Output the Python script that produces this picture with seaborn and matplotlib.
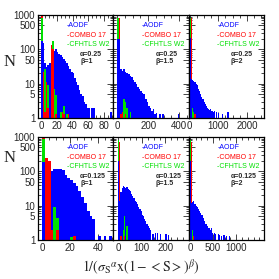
import numpy as np
import pandas as pd
import seaborn as sns
import matplotlib.pyplot as plt
from matplotlib.ticker import FixedLocator, LogLocator, NullFormatter, AutoMinorLocator

sns.set_style("ticks")
plt.rcParams['font.family'] = ['Liberation Sans', 'DejaVu Sans']
plt.rcParams['mathtext.fontset'] = 'stix'

# bin widths of each panel (x units)
widths = [2, 10, 40, 2, 5, 25]
# leading bins of red/green that sit behind the blue histogram
heads = [1, 2, 2, 1, 2, 2]
alphas = ["0.25", "0.25", "0.25", "0.125", "0.125", "0.125"]
betas = ["1", "1.5", "2", "1", "1.5", "2"]
xlims = [(-4, 92), (-25, 462), (-40, 2600), (-3, 51), (-20, 298), (-25, 1600)]
xticks = [[0, 20, 40, 60, 80], [0, 200, 400], [0, 1000, 2000],
          [0, 20, 40], [0, 100, 200], [0, 500, 1000]]
names = ["AODF", "COMBO 17", "CFHTLS W2"]

# counts per bin
blue_a = [170, 150, 40, 30, 35, 40, 45, 55, 90, 100, 85, 75, 68, 58, 52, 45, 40, 32,
          26, 22, 20, 15, 11, 9, 6.5, 5, 4.5, 3, 2.5, 2, 2, 0, 2, 2, 0, 0, 0, 0, 0,
          0, 0, 0, 0, 0, 1.5]
red_a = [1000, 22, 1.5, 11, 2, 0, 130, 100, 0, 1.3, 0, 0, 0, 1.5, 1.3, 0, 0, 1.3]
green_a = [800, 0, 27, 6, 9, 0, 0, 180, 7, 4.7, 0, 0, 1.5, 0, 2.2, 0, 1.3]

blue_b = [200, 200, 27, 24, 26, 22, 20, 19, 17, 16, 13, 11, 10, 8, 7, 6, 5.5, 5,
          3.5, 3, 2.2, 2, 1.6, 1.8, 1.3, 1.4, 0, 1.3, 0, 1.3, 0, 0, 0, 0, 0, 0, 0,
          0, 0, 1.3]
red_b = [0, 800, 1.3, 1.5, 0, 1.3]
green_b = [800, 0, 0, 0, 3.5, 3, 2, 0, 1.5]

blue_c = [220, 14, 13, 12, 11, 10, 9, 7, 6, 5, 4, 3.5, 3, 2.5, 2.2, 2, 1.8, 1.7,
          1.8, 1.6, 1.5, 1.6, 0, 1.5, 0, 1.4, 0, 0, 1.3, 0, 0, 0, 0, 1.5]
red_c = [0, 800, 0, 0, 1.3]
green_c = [800, 0, 2, 1.5]

blue_d = [190, 0, 0, 100, 120, 120, 120, 110, 80, 65, 55, 45, 38, 26, 18, 12, 7,
          5, 4, 0, 1.3, 0, 1.3, 0, 1.3]
red_d = [1000, 240, 200, 2, 0, 2, 0, 0, 0, 0, 0, 1.3]
green_d = [900, 0, 0, 2, 9, 4.5, 0, 0, 0, 0, 1.2]

blue_e = [200, 14, 25, 33, 38, 36, 33, 34, 30, 28, 26, 22, 19, 17, 14, 13, 11, 9,
          8, 7, 5.5, 5, 4, 3.5, 3, 2.5, 2.2, 2, 0, 1.5, 0, 1.6, 0, 1.6, 0, 1.5, 0,
          0, 0, 0, 1.5, 0, 1.4]
red_e = [0, 700, 1.3, 0, 0, 1.3]
green_e = [800, 0, 0, 0, 2, 5, 0, 2.5]

blue_f = [200, 12, 13, 14, 11, 10, 9, 8, 7, 6, 5.5, 4.5, 3.5, 3, 3, 2.5, 2.2, 2,
          2.2, 1.6, 0, 1.6, 1.5, 0, 1.5, 1.4, 0, 1.3, 0, 1.4, 0, 1.3, 0, 0, 1.3]
red_f = [0, 700, 0, 1.3]
green_f = [800, 0, 2]

blues = [blue_a, blue_b, blue_c, blue_d, blue_e, blue_f]
reds = [red_a, red_b, red_c, red_d, red_e, red_f]
greens = [green_a, green_b, green_c, green_d, green_e, green_f]
colors = ["#0000ff", "#ff0000", "#00e000"]


def draw(ax, counts, width, color, start=0):
    counts = np.asarray(counts, float)
    edges = np.arange(len(counts) + 1) * width
    df = pd.DataFrame({"x": edges[:-1] + width / 2, "n": counts})
    sub = edges[start:]
    if len(sub) < 2:
        return
    sns.histplot(data=df.iloc[start:], x="x", weights="n", bins=list(sub),
                 element="step", fill=True, color=color, alpha=1, linewidth=0, ax=ax)


fig, axes = plt.subplots(2, 3, figsize=(2.79, 2.79), dpi=100)
fig.subplots_adjust(left=38 / 279, right=264 / 279, top=1 - 15 / 279,
                    bottom=1 - 240 / 279, wspace=0, hspace=0.184)

for i, ax in enumerate(axes.flat):
    w = widths[i]
    h = heads[i]
    # tall first bins of red/green go behind blue, the rest in front
    draw(ax, reds[i][:h], w, colors[1])
    draw(ax, greens[i][:h], w, colors[2])
    draw(ax, blues[i], w, colors[0])
    draw(ax, greens[i], w, colors[2], start=h)
    draw(ax, reds[i], w, colors[1], start=h)
    ax.set_yscale("log")
    ax.set_ylim(1, 1000)
    ax.set_xlim(*xlims[i])
    ax.set_xticks(xticks[i])
    ax.xaxis.set_minor_locator(AutoMinorLocator(4))
    ax.yaxis.set_major_locator(FixedLocator([1, 5, 10, 50, 100, 500, 1000]))
    ax.yaxis.set_minor_locator(LogLocator(subs=(2, 3, 4, 6, 7, 8, 9)))
    ax.yaxis.set_minor_formatter(NullFormatter())
    ax.set_yticklabels(["1", "5", "10", "50", "100", "500", "1000"])
    ax.tick_params(which="both", direction="in", top=True, right=True,
                   width=0.6, labelsize=7, pad=2)
    ax.tick_params(which="major", length=4)
    ax.tick_params(which="minor", length=2.2)
    if i % 3 != 0:
        ax.tick_params(labelleft=False)
    ax.set_xlabel("")
    ax.set_ylabel("")
    for s in ax.spines.values():
        s.set_linewidth(0.9)
        s.set_color("black")

    for k, (name, c, yy) in enumerate(zip(names, colors, [0.90, 0.80, 0.71])):
        ax.text(0.38, yy, "-" + name, color=c, fontsize=5, transform=ax.transAxes,
                va="center", ha="left")
    ax.text(0.56, 0.62, "\u03b1=" + alphas[i], fontsize=5, fontweight="bold",
            transform=ax.transAxes, va="center", ha="left")
    ax.text(0.56, 0.55, "\u03b2=" + betas[i], fontsize=5, fontweight="bold",
            transform=ax.transAxes, va="center", ha="left")

for yy in [62, 158]:
    fig.text(10 / 279, 1 - yy / 279, "N", family="Liberation Serif", fontsize=12,
             ha="center", va="center")
fig.text(141 / 279, 1 - 268 / 279,
         r"$1/(\sigma_{\rm S}{}^{\alpha}{\rm x}(1-{<}{\rm S}{>})^{\beta})$",
         fontsize=10, ha="center", va="center")

fig.savefig("out.png", dpi=100)
